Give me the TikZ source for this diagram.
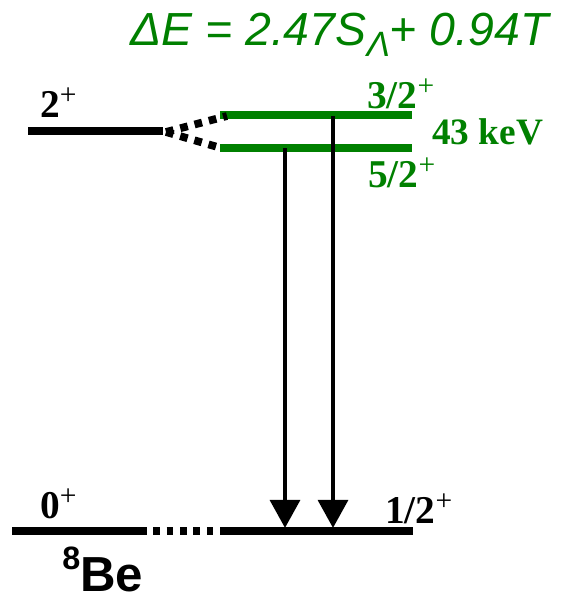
\documentclass[tikz,border=0pt]{standalone}
\usepackage{fontspec}
\setmainfont{Liberation Serif}
\setsansfont{Liberation Sans}
\usetikzlibrary{arrows.meta}
\definecolor{levelgreen}{RGB}{0,128,0}

\newcommand{\parity}{\raisebox{9pt}{\fontsize{21}{21}\selectfont\mdseries +}}

\tikzstyle{level} = [line width=5.7pt]
\tikzstyle{split} = [level, draw=levelgreen]
\tikzstyle{link} = [line width=5.5pt, dash pattern=on 5.5pt off 5pt]
\tikzstyle{arrow} = [line width=3.5pt, -{Triangle[width=21pt,length=20pt]}]
\tikzstyle{spin} = [
    font=\fontsize{28}{32}\selectfont\bfseries,
    anchor=base west, inner sep=0pt
]

\begin{document}
\begin{tikzpicture}[x=0.025cm, y=-0.025cm]
    \useasboundingbox (0,0) rectangle (561,599);

    % level ends
    \coordinate (twol) at (28,131);
    \coordinate (twor) at (163,131);
    \coordinate (twoc) at (166,132);
    \coordinate (thrl) at (220,115);
    \coordinate (thrr) at (412,115);
    \coordinate (fivl) at (220,148);
    \coordinate (fivr) at (412,148);
    \coordinate (zerl) at (12,531);
    \coordinate (zerr) at (140,531);
    \coordinate (halfl) at (222,531);
    \coordinate (halfr) at (413,531);

    \draw [level] (twol) -- (twor);
    \draw [split] (thrl) -- (thrr);
    \draw [split] (fivl) -- (fivr);
    \draw [level] (zerl) -- (zerr);
    \draw [level] (halfl) -- (halfr);

    \draw [link] (twoc) -- (227,116);
    \draw [link] (twoc) -- (221,148);
    \draw [link, dash pattern=on 4.75pt off 4.75pt] (zerr) -- (halfl);

    % gamma transitions
    \coordinate (gfive) at (285,148);
    \coordinate (gthree) at (333,116);
    \draw [arrow] (gfive) -- (gfive |- 0,528);
    \draw [arrow] (gthree) -- (gthree |- 0,528);

    % labels
    \node (ltwo) [spin] at (40,117) {2\parity};
    \node (lthree) [spin, text=levelgreen] at (367,108) {3/2\parity};
    \node (lkev) [spin, text=levelgreen, font=\fontsize{26.5}{30}\selectfont\bfseries]
        at (432,144) {43 keV};
    \node (lfive) [spin, text=levelgreen] at (368,187) {5/2\parity};
    \node (lzero) [spin] at (40,518) {0\parity};
    \node (lhalf) [spin] at (385,523) {1/2\parity};
    \node (lbe) [anchor=base west, inner sep=0pt,
        font=\fontsize{35}{38}\selectfont\sffamily\bfseries] at (62,591)
        {\raisebox{15.5pt}{\fontsize{23}{23}\selectfont 8}Be};
    \node (lform) [anchor=base west, inner sep=0pt, text=levelgreen,
        font=\fontsize{33}{38}\selectfont\sffamily\itshape] at (130,45)
        {ΔE = 2.47S\raisebox{-8.5pt}{\fontsize{25}{25}\selectfont Λ}+ 0.94T};
\end{tikzpicture}
\end{document}
